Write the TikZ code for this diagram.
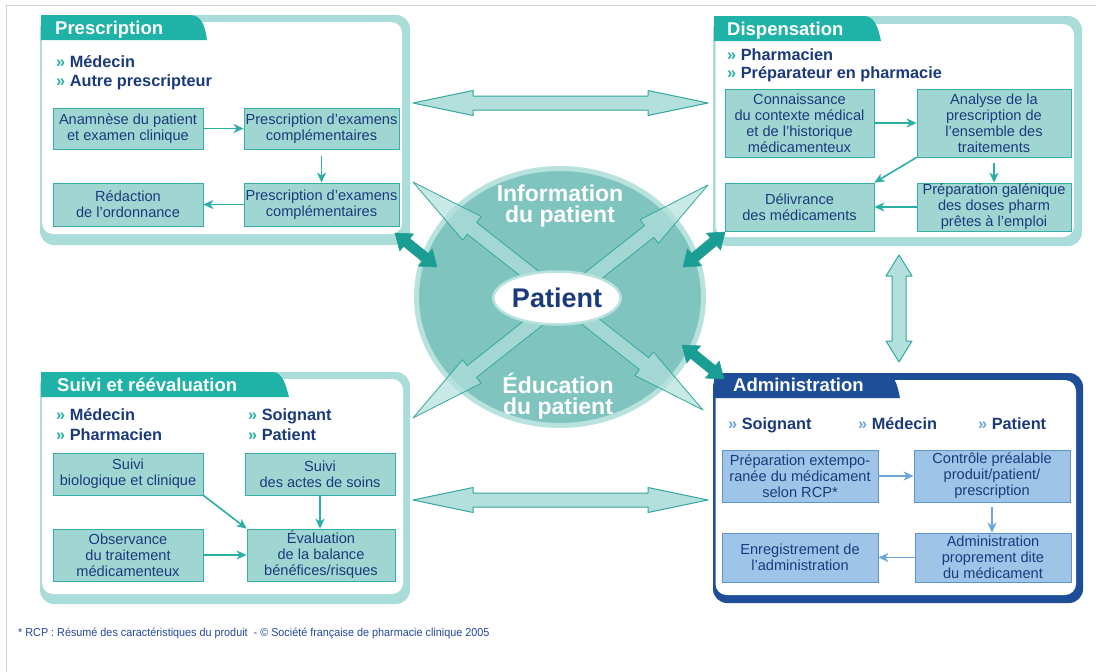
\documentclass[tikz,border=0pt]{standalone}
\usepackage{fontspec}
\setmainfont{Liberation Sans}
\usetikzlibrary{calc,arrows.meta,shapes.geometric}
\definecolor{tabteal}{HTML}{1FB2A6}
\definecolor{frameteal}{HTML}{AADDDA}
\definecolor{boxfill}{HTML}{A0D6D2}
\definecolor{boxline}{HTML}{38AFA6}
\definecolor{navy}{HTML}{1B3A7C}
\definecolor{arrteal}{HTML}{2AAFA5}
\definecolor{admblue}{HTML}{1E4E97}
\definecolor{admfill}{HTML}{9EC5E8}
\definecolor{admline}{HTML}{5E93CC}
\definecolor{admarr}{HTML}{6EA6D9}
\definecolor{circfill}{HTML}{80C4C0}
\definecolor{circring}{HTML}{B7E2DE}
\definecolor{darkteal}{HTML}{1A9D93}
\definecolor{lightarr}{HTML}{B3E0DC}
\definecolor{lightarrline}{HTML}{33A89E}
\definecolor{footblue}{HTML}{2447A0}
\newcommand\dblarr[6]{%
  \coordinate (da) at ($(#2)!#6!(#3)$);
  \coordinate (db) at ($(#3)!#6!(#2)$);
  \path[#1] (#2) -- ($(da)!#5!90:(#3)$) -- ($(da)!#4!90:(#3)$) -- ($(db)!#4!-90:(#2)$) -- ($(db)!#5!-90:(#2)$) -- (#3) -- ($(db)!#5!90:(#2)$) -- ($(db)!#4!90:(#2)$) -- ($(da)!#4!-90:(#3)$) -- ($(da)!#5!-90:(#3)$) -- cycle;
}
\newcommand\tch{\textcolor{arrteal}{»}~}
\newcommand\bch{\textcolor{admarr}{»}~}
\tikzset{
  tbox/.style={draw=boxline, fill=boxfill, line width=0.8pt, text=navy, align=center,
    font=\fontsize{14.6}{16}\selectfont, inner sep=0pt},
  abox/.style={tbox, draw=admline, fill=admfill},
  arr/.style={draw=arrteal, line width=1.6pt, -{Stealth[length=10pt,width=9pt,inset=3pt]}},
  admarrow/.style={arr, draw=admarr},
  titletext/.style={text=white, font=\bfseries\fontsize{18.5}{20}\selectfont, inner sep=0pt, anchor=base west},
  role/.style={text=navy, font=\bfseries\fontsize{16.3}{18}\selectfont, inner sep=0pt, anchor=base west},
  ctext/.style={text=white, font=\bfseries\fontsize{23}{21.5}\selectfont, align=center, inner sep=0pt},
  bigarr/.style={fill=lightarr, fill opacity=0.7, draw=lightarrline, line width=0.8pt, line join=round},
  darkarr/.style={fill=darkteal, draw=darkteal, line width=0.5pt, line join=round},
  lightdbl/.style={fill=lightarr, draw=lightarrline, line width=1pt, line join=round},
}
\begin{document}
\begin{tikzpicture}[x=1pt,y=-1pt]
\useasboundingbox (0,0) rectangle (1096,672);
\fill[white] (0,0) rectangle (1096,672);
\draw[black!18, line width=1.5pt] (6.5,672) -- (6.5,5.5) -- (1096,5.5);

% ---------- Prescription panel
\fill[frameteal, rounded corners=14pt] (40,15) rectangle (410,245);
\fill[white, rounded corners=11pt] (42,22) rectangle (402,234);
\fill[tabteal] (41,15) -- (190,15) .. controls (201,15) and (205,25) .. (207,40) -- (41,40) -- cycle;
\node[titletext] (tPres) at (55,34) {Prescription};
\node[role] (rP1) at (56,67) {\tch Médecin};
\node[role] (rP2) at (56,86) {\tch Autre prescripteur};
\node[tbox, minimum width=150pt, minimum height=41pt] (anam) at (128,128.5) {Anamnèse du patient\\et examen clinique};
\node[tbox, minimum width=155pt, minimum height=41pt] (pex1) at (321.5,128.5) {Prescription d'examens\\complémentaires};
\node[tbox, minimum width=150pt, minimum height=43pt] (redac) at (128,204.5) {Rédaction\\de l'ordonnance};
\node[tbox, minimum width=155pt, minimum height=43pt] (pex2) at (321.5,204.5) {Prescription d'examens\\complémentaires};
\draw[arr] (anam) -- (pex1);
\draw[arr, shorten <=7pt] (pex1) -- (pex2);
\draw[arr] (pex2) -- (redac);

% ---------- Dispensation panel
\fill[frameteal, rounded corners=14pt] (713,16) rectangle (1082,246);
\fill[white, rounded corners=11pt] (715.5,24) rectangle (1074,237);
\fill[tabteal] (714,16) -- (864,16) .. controls (874,16) and (878,26) .. (881,41) -- (714,41) -- cycle;
\node[titletext] (tDisp) at (727,35.5) {Dispensation};
\node[role] (rD1) at (727,60) {\tch Pharmacien};
\node[role] (rD2) at (727,78) {\tch Préparateur en pharmacie};
\node[tbox, minimum width=149pt, minimum height=68pt] (conn) at (799.5,123) {Connaissance\\du contexte médical\\et de l'historique\\médicamenteux};
\node[tbox, minimum width=154pt, minimum height=68pt] (analy) at (994,123) {Analyse de la\\prescription de\\l'ensemble des\\traitements};
\node[tbox, minimum width=149pt, minimum height=48pt] (deliv) at (799.5,207) {Délivrance\\des médicaments};
\node[tbox, minimum width=154pt, minimum height=48pt] (prepg) at (994,207) {Préparation galénique\\des doses pharm\\prêtes à l'emploi};
\draw[arr] (conn) -- (analy);
\draw[arr, shorten <=6pt] (analy) -- (prepg);
\draw[arr] (prepg) -- (deliv);
\draw[arr] (analy.south west) -- (deliv.north east);

% ---------- Suivi panel
\fill[frameteal, rounded corners=14pt] (40,372) rectangle (410,604);
\fill[white, rounded corners=11pt] (42,379) rectangle (403,594);
\fill[tabteal] (41,372) -- (272,372) .. controls (282,372) and (285,382) .. (289,397) -- (41,397) -- cycle;
\node[titletext] (tSuiv) at (57,391) {Suivi et réévaluation};
\node[role] (rS1) at (56,420) {\tch Médecin};
\node[role] (rS2) at (56,440) {\tch Pharmacien};
\node[role] (rS3) at (248,420) {\tch Soignant};
\node[role] (rS4) at (248,440) {\tch Patient};
\node[tbox, minimum width=150pt, minimum height=42pt] (sbio) at (128,474) {Suivi\\biologique et clinique};
\node[tbox, minimum width=150pt, minimum height=42pt] (sact) at (320,474) {Suivi\\des actes de soins};
\node[tbox, minimum width=150pt, minimum height=52pt] (obs) at (128,555) {Observance\\du traitement\\médicamenteux};
\node[tbox, minimum width=148pt, minimum height=52pt] (evalu) at (321,555) {Évaluation\\de la balance\\bénéfices/risques};
\draw[arr] (sbio.south east) -- (evalu.north west);
\draw[arr] (sact.south) -- (sact.south |- evalu.north);
\draw[arr] (obs) -- (evalu);

% ---------- Administration panel
\fill[admblue, rounded corners=14pt] (713,373) rectangle (1083,603);
\fill[white, rounded corners=11pt] (715.5,380) rectangle (1076,595);
\fill[admblue] (714,373) -- (884,373) .. controls (894,373) and (897,383) .. (900,398) -- (714,398) -- cycle;
\node[titletext] (tAdm) at (733,391.5) {Administration};
\node[role] (rA1) at (728,429) {\bch Soignant};
\node[role] (rA2) at (858,429) {\bch Médecin};
\node[role] (rA3) at (978,429) {\bch Patient};
\node[abox, minimum width=156pt, minimum height=52pt] (prepx) at (800,476) {Préparation extempo-\\ranée du médicament\\selon RCP*};
\node[abox, minimum width=156pt, minimum height=52pt] (ctrl) at (992,476) {Contrôle préalable\\produit/patient/\\prescription};
\node[abox, minimum width=156pt, minimum height=49pt] (enreg) at (800,557.5) {Enregistrement de\\l'administration};
\node[abox, minimum width=156pt, minimum height=49pt] (admp) at (993,557.5) {Administration\\proprement dite\\du médicament};
\draw[admarrow] (prepx) -- (ctrl);
\draw[admarrow, shorten <=5pt] (ctrl.south) -- (ctrl.south |- admp.north);
\draw[admarrow] (admp) -- (enreg);

% ---------- light double arrows between panels
\coordinate (ht1) at (413,103); \coordinate (ht2) at (708,103);
\coordinate (hb1) at (413,500); \coordinate (hb2) at (708,500);
\coordinate (v1) at (899,255); \coordinate (v2) at (899,362);
\dblarr{lightdbl}{ht1}{ht2}{7pt}{12.5pt}{60pt}
\dblarr{lightdbl}{hb1}{hb2}{7pt}{12.5pt}{60pt}
\dblarr{lightdbl}{v1}{v2}{7pt}{13pt}{21pt}

% ---------- centre
\node[ellipse, minimum width=287pt, minimum height=257pt, fill=circfill, draw=circring, line width=5pt] (circ) at (560,297) {};
\coordinate (xa1) at (413,182); \coordinate (xb1) at (703,410);
\coordinate (xa2) at (708,185); \coordinate (xb2) at (413,418);
\dblarr{bigarr}{xa1}{xb1}{7.5pt}{15pt}{75pt}
\dblarr{bigarr}{xa2}{xb2}{7.5pt}{15pt}{75pt}
\node[ellipse, fill=white, draw=circring, line width=2.5pt, minimum width=124pt, minimum height=53pt, inner sep=0pt, text=navy, font=\bfseries\fontsize{27}{28}\selectfont] (patient) at (557,298) {Patient};
\node[ctext] (info) at (560,206) {Information\\du patient};
\node[ctext] (educ) at (558,396) {Éducation\\du patient};

% ---------- dark arrows to circle
\coordinate (dp1) at (395,233); \coordinate (dp2) at (437,267);
\coordinate (dd1) at (725,232); \coordinate (dd2) at (683,267);
\coordinate (dq1) at (682,345); \coordinate (dq2) at (724,379);
\dblarr{darkarr}{dp1}{dp2}{5pt}{11pt}{15pt}
\dblarr{darkarr}{dd1}{dd2}{5pt}{11pt}{15pt}
\dblarr{darkarr}{dq1}{dq2}{5pt}{11pt}{15pt}

% ---------- footer
\node[anchor=west, text=footblue, font=\fontsize{11.5}{13}\selectfont, inner sep=0pt] (foot) at (18,633) {\scalebox{0.94}[1]{* RCP : Résumé des caractéristiques du produit~ - © Société française de pharmacie clinique 2005}};
\end{tikzpicture}
\end{document}
